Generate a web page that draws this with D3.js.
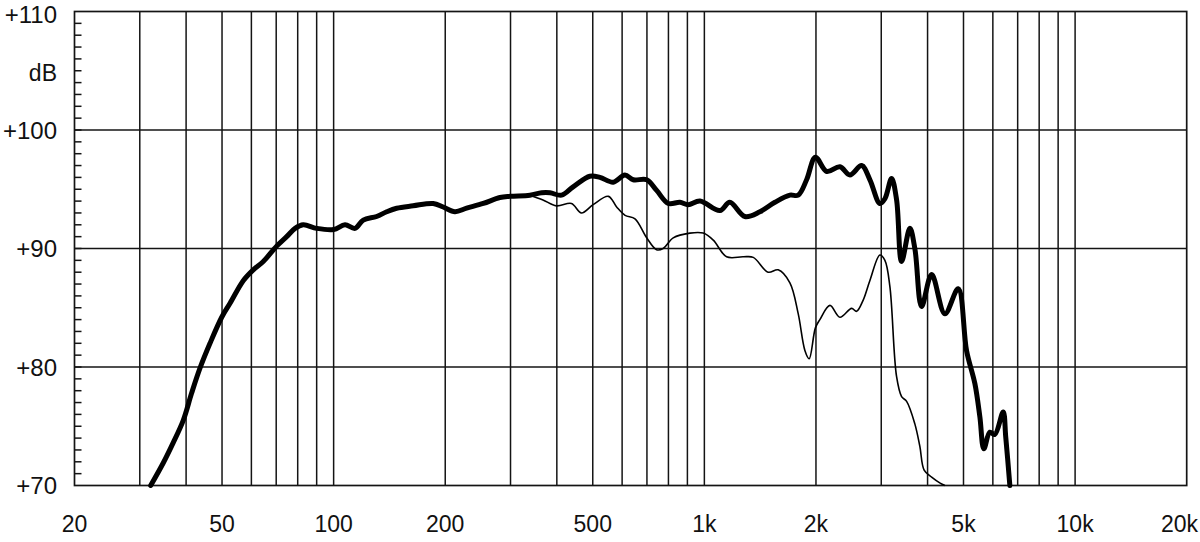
<!DOCTYPE html>
<html>
<head>
<meta charset="utf-8">
<script src="https://cdn.jsdelivr.net/npm/d3@7"></script>
<style>
  body { margin: 0; background: #fff; }
  text { font-family: "Liberation Sans", Arial, sans-serif; fill: #111; }
</style>
</head>
<body>
<svg id="chart" width="1200" height="542"></svg>
<script>
// axis ticks
var yTicks = [70, 80, 90, 100, 110];
var xLabels = [20, 50, 100, 200, 500, 1000, 2000, 5000, 10000, 20000];
var xLabelText = ["20", "50", "100", "200", "500", "1k", "2k", "5k", "10k", "20k"];
var xGrid = [30, 40, 50, 60, 70, 80, 90, 100, 200, 300, 400, 500, 600, 700, 800, 900,
             1000, 2000, 3000, 4000, 5000, 6000, 7000, 8000, 9000, 10000];

// thick curve
var mainFreq = [32.1, 34.7, 36.9, 39.3, 41.4, 43.6, 46.4, 49.9, 52.6, 57.1, 60.7, 64.6, 70.2, 74.7,
  78.7, 82.8, 90, 100, 107.3, 114.2, 120.2, 130.6, 139, 147.9, 163.9, 185.6, 197.5, 212.4, 228.4,
  253.3, 280.9, 300, 338.4, 364, 383.5, 412, 442.6, 491, 522.8, 567.9, 610.6, 643, 699, 743.5,
  799.4, 859, 904.6, 973, 1101, 1171, 1286, 1412, 1550, 1701, 1791, 1887, 1993, 2138, 2321, 2469,
  2656, 2796, 2975, 3069, 3199, 3300, 3404, 3584, 3700, 3854, 4102, 4455, 4837, 5095, 5366, 5535,
  5674, 5889, 6075, 6398, 6500, 6668];
var mainDb = [70.0, 71.9, 73.6, 75.5, 77.8, 79.9, 82.0, 84.2, 85.4, 87.3, 88.2, 88.9, 90.2, 91.0,
  91.7, 92.0, 91.7, 91.6, 92.0, 91.7, 92.4, 92.7, 93.1, 93.4, 93.6, 93.8, 93.5, 93.1, 93.4,
  93.8, 94.3, 94.4, 94.5, 94.7, 94.7, 94.5, 95.2, 96.1, 96.0, 95.6, 96.2, 95.8, 95.8, 94.9,
  93.8, 93.9, 93.7, 94.0, 93.2, 93.9, 92.7, 93.1, 93.9, 94.5, 94.5, 95.8, 97.7, 96.5, 96.9, 96.2,
  97.0, 95.8, 93.8, 94.2, 95.9, 94.1, 88.9, 91.7, 89.9, 85.1, 87.8, 84.5, 86.6, 81.4, 78.6, 75.8,
  73.1, 74.5, 74.3, 76.2, 74.1, 70.0];

// thin curve
var offFreq = [338.4, 367, 399, 438, 466, 501, 551, 580, 611, 650, 699, 743, 774, 824, 914, 993,
  1057, 1148, 1273, 1355, 1486, 1582, 1701, 1791, 1867, 1917, 1993, 2049, 2181, 2321, 2495, 2574,
  2682, 2796, 2975, 3069, 3165, 3299, 3404, 3512, 3696, 3813, 3916, 4102, 4325, 4455];
var offDb = [94.5, 94.1, 93.6, 93.8, 93.0, 93.7, 94.4, 93.5, 92.8, 92.5, 90.9, 89.9, 90.0, 90.9, 91.3, 91.3,
  90.7, 89.3, 89.3, 89.25, 88.0, 88.2, 87.1, 84.5, 81.4, 80.7, 83.3, 84.0, 85.2, 84.2, 84.95, 84.7,
  85.65, 87.3, 89.45, 89.0, 86.8, 79.2, 77.5, 77.1, 75.2, 73.3, 71.3, 70.7, 70.2, 70.0];

var svg = d3.select("#chart");

var x = d3.scaleLog().domain([20, 20000]).range([74.5, 1186.7]);
var y = d3.scaleLinear().domain([70, 110]).range([485.5, 11.5]);

var grid = svg.append("g")
  .attr("stroke", "#141414")
  .attr("stroke-width", 1.5);

grid.selectAll(".vg")
  .data(xGrid)
  .enter()
  .append("line")
  .attr("class", "vg")
  .attr("x1", function(d) { return x(d); })
  .attr("x2", function(d) { return x(d); })
  .attr("y1", y(110))
  .attr("y2", y(70));

grid.selectAll(".hg")
  .data([80, 90, 100])
  .enter()
  .append("line")
  .attr("class", "hg")
  .attr("x1", x(20))
  .attr("x2", x(20000))
  .attr("y1", function(d) { return y(d); })
  .attr("y2", function(d) { return y(d); });

// minor dB ticks on the left edge
grid.selectAll(".mt")
  .data(d3.range(71, 110))
  .enter()
  .append("line")
  .attr("class", "mt")
  .attr("x1", x(20))
  .attr("x2", x(20) + 7)
  .attr("y1", function(d) { return y(d); })
  .attr("y2", function(d) { return y(d); });

svg.append("rect")
  .attr("x", x(20))
  .attr("y", y(110))
  .attr("width", x(20000) - x(20))
  .attr("height", y(70) - y(110))
  .attr("fill", "none")
  .attr("stroke", "#141414")
  .attr("stroke-width", 1.7);

var line = d3.line()
  .x(function(d) { return x(d[0]); })
  .y(function(d) { return y(d[1]); })
  .curve(d3.curveCatmullRom.alpha(0.5));

svg.append("path")
  .datum(d3.zip(offFreq, offDb))
  .attr("d", line)
  .attr("fill", "none")
  .attr("stroke", "#000")
  .attr("stroke-width", 1.6)
  .attr("stroke-linejoin", "round");

svg.append("path")
  .datum(d3.zip(mainFreq, mainDb))
  .attr("d", line)
  .attr("fill", "none")
  .attr("stroke", "#000")
  .attr("stroke-width", 5)
  .attr("stroke-linejoin", "round")
  .attr("stroke-linecap", "round");

// y labels
svg.selectAll(".yl")
  .data(yTicks)
  .enter()
  .append("text")
  .attr("class", "yl")
  .attr("x", 57)
  .attr("y", function(d) { return Math.max(y(d), 14); })
  .attr("dy", "0.36em")
  .attr("text-anchor", "end")
  .style("font-size", "24px")
  .text(function(d) { return "+" + d; });

svg.append("text")
  .attr("x", 57)
  .attr("y", 73)
  .attr("dy", "0.36em")
  .attr("text-anchor", "end")
  .style("font-size", "23px")
  .text("dB");

// x labels
svg.selectAll(".xl")
  .data(xLabels)
  .enter()
  .append("text")
  .attr("class", "xl")
  .attr("x", function(d) { return d === 20000 ? 1198 : x(d); })
  .attr("y", 532)
  .attr("text-anchor", function(d) { return d === 20000 ? "end" : "middle"; })
  .style("font-size", "23px")
  .text(function(d, i) { return xLabelText[i]; });
</script>
</body>
</html>
